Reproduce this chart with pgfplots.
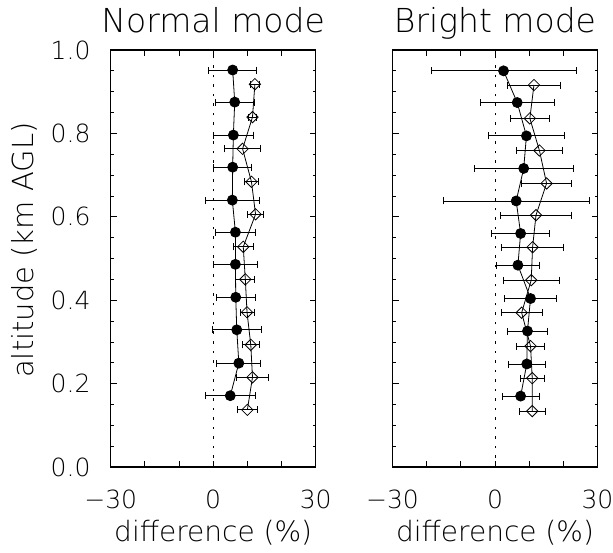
\documentclass[border=0pt]{standalone}
\usepackage{fontspec}
\setmainfont{DejaVu Sans ExtraLight}
\usepackage{pgfplots}
\usepackage{pgfplotstable}
\pgfplotsset{compat=1.18}

\pgfplotstableread{
x y e
5.0 0.171 7.3
7.5 0.249 6.45
6.9 0.329 7.2
6.6 0.407 5.7
6.5 0.486 6.4
6.5 0.563 5.85
5.6 0.640 7.85
5.7 0.719 5.6
5.9 0.796 5.85
6.3 0.875 5.65
5.7 0.952 7.0
}\NLf

\pgfplotstableread{
x y e
10.0 0.137 3.0
11.5 0.215 4.8
11.0 0.293 2.55
9.9 0.371 2.05
9.4 0.450 2.8
8.8 0.528 2.95
12.4 0.606 2.3
11.2 0.684 1.95
8.6 0.763 5.35
11.5 0.839 1.2
12.2 0.918 1.2
}\NLd

\pgfplotstableread{
x y e
7.5 0.170 5.35
9.3 0.247 5.4
9.5 0.326 5.9
10.4 0.404 7.7
6.7 0.484 6.4
7.5 0.560 8.5
6.2 0.638 21.3
8.4 0.716 14.4
9.2 0.794 11.25
6.5 0.874 10.75
2.5 0.950 21.2
}\BRf

\pgfplotstableread{
x y e
10.9 0.134 3.8
10.9 0.213 3.45
10.4 0.290 4.2
7.8 0.370 6.0
10.6 0.448 8.25
11.0 0.527 9.1
12.0 0.604 10.3
15.1 0.680 7.35
13.0 0.759 6.8
10.2 0.836 5.65
11.4 0.916 7.65
}\BRd

\pgfplotsset{
  myax/.style={
    scale only axis, width=205pt, height=417pt, anchor=south west,
    xmin=-30, xmax=30, ymin=0, ymax=1,
    xtick={-30,-20,-10,0,10,20,30}, xticklabels={−30,,,0,,,30},
    ytick={0,0.2,0.4,0.6,0.8,1},
    minor y tick num=3,
    major tick length=6pt, minor tick length=3pt,
    axis line style={line width=1.1pt},
    tick style={line width=0.8pt, black},
    xticklabel style={font=\fontsize{25}{28}\selectfont, anchor=base, yshift=-41pt},
    yticklabel style={font=\fontsize{25}{28}\selectfont, anchor=east, inner sep=0pt, xshift=-20pt},
    title style={font=\fontsize{33}{36}\selectfont, at={(0.5,1)}, anchor=base, yshift=11pt},
    xlabel style={font=\fontsize{28}{32}\selectfont, at={(axis description cs:0.5,0)}, anchor=base, yshift=-74pt},
    xlabel={difference (\%)},
  },
  fser/.style={black, line width=0.8pt, mark=*, mark size=5pt, mark options={solid, fill=black},
    error bars/.cd, x dir=both, x explicit, error mark=|,
    error bar style={line width=0.8pt},
    error mark options={mark size=3.5pt, line width=0.8pt}},
  dser/.style={black, line width=0.8pt, mark=square, mark size=4pt, mark options={solid, fill=none, rotate=45},
    error bars/.cd, x dir=both, x explicit, error mark=|,
    error bar style={line width=0.8pt},
    error mark options={mark size=3.5pt, line width=0.8pt}},
  zline/.style={black, line width=1pt, dash pattern=on 2.5pt off 7pt},
}

\begin{document}
\begin{tikzpicture}[x=1pt,y=1pt]
\path[use as bounding box] (0,0) rectangle (613,552);

\begin{axis}[myax, at={(110.7pt,85pt)},
  title={Normal mode},
  yticklabels={0.0,0.2,0.4,0.6,0.8,1.0},
  ylabel={altitude (km AGL)},
  ylabel style={font=\fontsize{29}{32}\selectfont, at={(axis description cs:-0.378,0.52)}, anchor=base},
]
\addplot[zline] coordinates {(0,0) (0,1)};
\addplot[fser] table[x=x, y=y, x error=e] {\NLf};
\addplot[dser] table[x=x, y=y, x error=e] {\NLd};
\end{axis}

\begin{axis}[myax, at={(392.5pt,85pt)},
  title={Bright mode},
  yticklabels={},
]
\addplot[zline] coordinates {(0,0) (0,1)};
\addplot[fser] table[x=x, y=y, x error=e] {\BRf};
\addplot[dser] table[x=x, y=y, x error=e] {\BRd};
\end{axis}
\end{tikzpicture}
\end{document}
